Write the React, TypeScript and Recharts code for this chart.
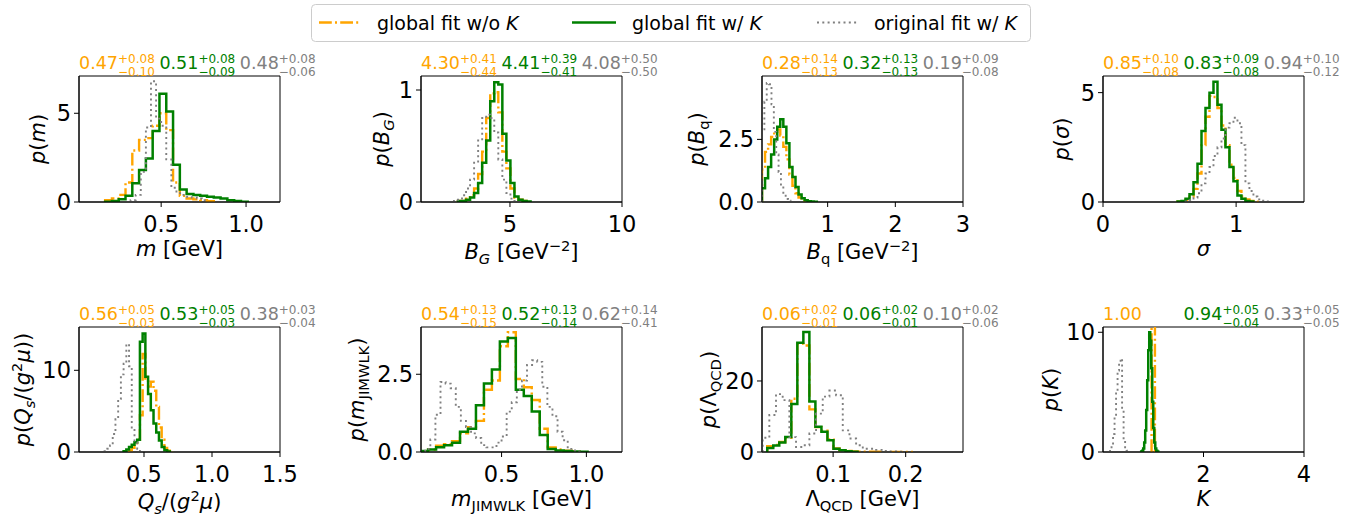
import React from "react";
import { LineChart, Line, XAxis, YAxis, ReferenceArea } from "recharts";

const ORANGE = "#ffa500";
const GREEN = "#008000";
const GRAY = "#808080";
const FONT = "'DejaVu Sans', 'Liberation Sans', sans-serif";

// every histogram: [first bin edge, bin width] + bin densities
// m
const mOrangeBins = [0.17, 0.04];
const mOrange = [0.1, 0.2, 0.4, 1.1, 2.9, 3.5, 3.6, 4.3, 5.0, 4.05, 1.1, 0.35, 0.2, 0.15, 0.1, 0.05];
const mGreenBins = [0.17, 0.04];
const mGreen = [0.02, 0.05, 0.15, 0.35, 1.05, 1.8, 2.45, 4.0, 6.1, 5.1, 2.1, 0.7, 0.45, 0.4, 0.35, 0.3, 0.25, 0.2, 0.1, 0.05, 0.02];
const mGrayBins = [0.32, 0.03];
const mGray = [0.1, 0.4, 1.7, 4.2, 6.8, 4.7, 4.3, 2.4, 0.8, 0.5, 0.4, 0.3, 0.25, 0.2, 0.1];

// B_G
const bgOrangeBins = [2.68, 0.18];
const bgOrange = [0.01, 0.01, 0.03, 0.06, 0.12, 0.25, 0.45, 0.75, 0.97, 0.98, 0.8, 0.45, 0.3, 0.12, 0.04, 0.02, 0.01];
const bgGreenBins = [2.68, 0.18];
const bgGreen = [0.01, 0.01, 0.02, 0.04, 0.08, 0.17, 0.35, 0.55, 0.9, 1.07, 1.05, 0.61, 0.37, 0.17, 0.05, 0.02, 0.01, 0.005];
const bgGrayBins = [2.5, 0.18];
const bgGray = [0.02, 0.02, 0.06, 0.12, 0.2, 0.35, 0.55, 0.75, 0.78, 0.75, 0.62, 0.38, 0.2, 0.08, 0.03, 0.01];

// B_q
const bqOrangeBins = [0.03, 0.045];
const bqOrange = [1.3, 2.0, 2.3, 2.6, 2.8, 2.9, 2.65, 2.2, 1.7, 1.1, 0.65, 0.35, 0.18, 0.08, 0.03, 0.01];
const bqGreenBins = [0.03, 0.045];
const bqGreen = [0.55, 0.95, 1.4, 1.9, 2.5, 3.0, 3.3, 3.0, 2.35, 1.4, 1.0, 0.6, 0.3, 0.15, 0.07, 0.03, 0.02, 0.01];
const bqGrayBins = [0.03, 0.035];
const bqGray = [2.9, 4.0, 4.75, 4.7, 3.9, 2.8, 1.9, 1.2, 0.65, 0.3, 0.12, 0.05, 0.02];

// sigma
const sgOrangeBins = [0.56, 0.03];
const sgOrange = [0.01, 0.03, 0.1, 0.25, 0.6, 1.3, 2.6, 3.9, 4.85, 4.8, 4.3, 3.5, 2.6, 1.7, 1.1, 0.5, 0.25, 0.12, 0.05, 0.02];
const sgGreenBins = [0.56, 0.03];
const sgGreen = [0.02, 0.05, 0.15, 0.35, 0.9, 1.75, 3.25, 4.3, 5.0, 5.5, 4.45, 3.3, 2.5, 1.6, 0.95, 0.3, 0.15, 0.05, 0.02];
const sgGrayBins = [0.62, 0.03];
const sgGray = [0.03, 0.08, 0.2, 0.4, 0.85, 1.3, 1.6, 2.1, 2.5, 2.9, 3.4, 3.6, 3.85, 3.6, 2.6, 0.85, 0.5, 0.25, 0.12, 0.06, 0.03];

// Q_s/(g^2 mu)
const qsOrangeBins = [0.39, 0.02];
const qsOrange = [0.2, 0.5, 0.8, 1.5, 4.5, 12.0, 9.0, 8.0, 8.6, 7.5, 5.5, 3.0, 1.5, 0.5, 0.15, 0.05];
const qsGreenBins = [0.35, 0.02];
const qsGreen = [0.1, 0.3, 0.6, 0.9, 1.2, 1.5, 13.5, 14.5, 9.2, 7.1, 5.1, 3.5, 2.4, 1.4, 0.6, 0.2, 0.05];
const qsGrayBins = [0.21, 0.02];
const qsGray = [0.1, 0.4, 0.8, 2.2, 4.0, 6.5, 9.5, 10.8, 13.2, 10.5, 3.0, 1.2, 0.4, 0.1];

// m_JIMWLK
const mjOrangeBins = [0.02, 0.047];
const mjOrange = [0.02, 0.08, 0.2, 0.25, 0.35, 0.6, 0.8, 1.0, 2.0, 2.3, 3.4, 3.85, 2.35, 2.08, 1.67, 0.75, 0.15, 0.08, 0.04, 0.02];
const mjGreenBins = [0.02, 0.047];
const mjGreen = [0.03, 0.08, 0.15, 0.22, 0.3, 0.65, 0.75, 1.5, 2.2, 2.65, 3.55, 3.67, 2.0, 1.8, 1.3, 0.55, 0.1, 0.05, 0.03, 0.02, 0.01];
const mjGrayBins = [0.02, 0.03];
const mjGray = [0.03, 0.1, 0.4, 1.2, 2.25, 2.2, 2.05, 1.45, 1.0, 0.8, 0.6, 0.45, 0.22, 0.15, 0.15, 0.3, 0.5, 1.3, 1.6, 2.0, 2.3, 2.8, 2.95, 2.9, 2.1, 1.45, 1.15, 0.65, 0.38, 0.1, 0.05, 0.02];

// Lambda_QCD
const lqOrangeBins = [0.0092, 0.0083];
const lqOrange = [1.6, 2.0, 2.8, 4.0, 15.0, 30.5, 30.0, 12.0, 7.0, 6.0, 3.5, 1.0, 0.5, 0.3, 0.15, 0.1, 0.08, 0.05, 0.05, 0.04, 0.03, 0.02, 0.02, 0.01];
const lqGreenBins = [0.0092, 0.0083];
const lqGreen = [1.1, 1.8, 2.7, 4.2, 13.5, 30.8, 33.8, 14.2, 7.1, 5.7, 3.3, 0.9, 0.5, 0.2, 0.1];
const lqGrayBins = [0.0029, 0.0092];
const lqGray = [4.0, 10.4, 16.3, 14.6, 4.2, 1.4, 1.9, 5.2, 10.8, 15.6, 17.3, 16.0, 6.1, 3.8, 1.9, 0.9, 0.9, 0.6, 0.3, 0.15, 0.1];

// K (orange is fixed at K = 1)
const kOrangeBins = [0.9667, 0.0667];
const kOrange = [15];
const kGreenBins = [0.76, 0.02];
const kGreen = [0.05, 0.1, 0.3, 0.8, 1.8, 3.5, 6.0, 8.5, 10.0, 9.3, 7.0, 4.2, 2.0, 0.8, 0.3, 0.1, 0.05];
const kGrayBins = [0.14, 0.03];
const kGray = [0.2, 0.6, 1.5, 3.0, 4.9, 6.8, 7.4, 7.8, 3.5, 1.0, 0.3, 0.1];

// median with +/- errors written above each panel (orange, green, gray)
const mNotes = [["0.47", "+0.08", "−0.10"], ["0.51", "+0.08", "−0.09"], ["0.48", "+0.08", "−0.06"]];
const bgNotes = [["4.30", "+0.41", "−0.44"], ["4.41", "+0.39", "−0.41"], ["4.08", "+0.50", "−0.50"]];
const bqNotes = [["0.28", "+0.14", "−0.13"], ["0.32", "+0.13", "−0.13"], ["0.19", "+0.09", "−0.08"]];
const sgNotes = [["0.85", "+0.10", "−0.08"], ["0.83", "+0.09", "−0.08"], ["0.94", "+0.10", "−0.12"]];
const qsNotes = [["0.56", "+0.05", "−0.03"], ["0.53", "+0.05", "−0.03"], ["0.38", "+0.03", "−0.04"]];
const mjNotes = [["0.54", "+0.13", "−0.15"], ["0.52", "+0.13", "−0.14"], ["0.62", "+0.14", "−0.41"]];
const lqNotes = [["0.06", "+0.02", "−0.01"], ["0.06", "+0.02", "−0.01"], ["0.10", "+0.02", "−0.06"]];
const kNotes = [["1.00"], ["0.94", "+0.05", "−0.04"], ["0.33", "+0.05", "−0.05"]];

type Part = { t: string; it?: boolean; sub?: boolean; sup?: boolean };

function toSteps(bins: number[], vals: number[]) {
  const [lo, w] = bins;
  const pts = [{ x: lo, y: 0 }];
  vals.forEach((v, i) => pts.push({ x: lo + i * w, y: v }));
  pts.push({ x: lo + vals.length * w, y: 0 });
  return pts;
}

const p = (inner: Part[]): Part[] => [{ t: "p", it: true }, { t: "(" }, ...inner, { t: ")" }];

const PANELS = [
  {
    left: 79, top: 76, h: 126, xDomain: [0.016, 1.2], yMax: 7.1, xTicks: [0.5, 1.0], yTicks: [0, 5], xDec: 1, yDec: 0,
    xLabel: [{ t: "m", it: true }, { t: " [GeV]" }], xDy: 0, yLabel: p([{ t: "m", it: true }]), yGap: 34, notes: mNotes,
    series: [[mOrangeBins, mOrange], [mGreenBins, mGreen], [mGrayBins, mGray]],
  },
  {
    left: 421, top: 76, h: 126, xDomain: [1.03, 10], yMax: 1.125, xTicks: [5, 10], yTicks: [0, 1], xDec: 0, yDec: 0,
    xLabel: [{ t: "B", it: true }, { t: "G", it: true, sub: true }, { t: " [GeV" }, { t: "−2", sup: true }, { t: "]" }], xDy: 3,
    yLabel: p([{ t: "B", it: true }, { t: "G", it: true, sub: true }]), yGap: 32, notes: bgNotes,
    series: [[bgOrangeBins, bgOrange], [bgGreenBins, bgGreen], [bgGrayBins, bgGray]],
  },
  {
    left: 762, top: 76, h: 126, xDomain: [0.03, 3], yMax: 5.03, xTicks: [1, 2, 3], yTicks: [0, 2.5], xDec: 0, yDec: 1,
    xLabel: [{ t: "B", it: true }, { t: "q", sub: true }, { t: " [GeV" }, { t: "−2", sup: true }, { t: "]" }], xDy: 3,
    yLabel: p([{ t: "B", it: true }, { t: "q", sub: true }]), yGap: 58, notes: bqNotes,
    series: [[bqOrangeBins, bqOrange], [bqGreenBins, bqGreen], [bqGrayBins, bqGray]],
  },
  {
    left: 1103, top: 76, h: 126, xDomain: [0, 1.51], yMax: 5.76, xTicks: [0, 1], yTicks: [0, 5], xDec: 0, yDec: 0,
    xLabel: [{ t: "σ", it: true }], xDy: 0, yLabel: p([{ t: "σ", it: true }]), yGap: 34, notes: sgNotes,
    series: [[sgOrangeBins, sgOrange], [sgGreenBins, sgGreen], [sgGrayBins, sgGray]],
  },
  {
    left: 79, top: 327, h: 125, xDomain: [0.022, 1.5], yMax: 15.3, xTicks: [0.5, 1.0, 1.5], yTicks: [0, 10], xDec: 1, yDec: 0,
    xLabel: [{ t: "Q", it: true }, { t: "s", it: true, sub: true }, { t: "/(" }, { t: "g", it: true }, { t: "2", sup: true }, { t: "μ", it: true }, { t: ")" }], xDy: 3,
    yLabel: p([{ t: "Q", it: true }, { t: "s", it: true, sub: true }, { t: "/(" }, { t: "g", it: true }, { t: "2", sup: true }, { t: "μ", it: true }, { t: ")" }]),
    yGap: 49, notes: qsNotes,
    series: [[qsOrangeBins, qsOrange], [qsGreenBins, qsGreen], [qsGrayBins, qsGray]],
  },
  {
    left: 421, top: 327, h: 125, xDomain: [0.025, 1.21], yMax: 4.02, xTicks: [0.5, 1.0], yTicks: [0, 2.5], xDec: 1, yDec: 1,
    xLabel: [{ t: "m", it: true }, { t: "JIMWLK", sub: true }, { t: " [GeV]" }], xDy: 0,
    yLabel: p([{ t: "m", it: true }, { t: "JIMWLK", sub: true }]), yGap: 57, notes: mjNotes,
    series: [[mjOrangeBins, mjOrange], [mjGreenBins, mjGreen], [mjGrayBins, mjGray]],
  },
  {
    left: 762, top: 327, h: 125, xDomain: [0.002, 0.279], yMax: 35.2, xTicks: [0.1, 0.2], yTicks: [0, 20], xDec: 1, yDec: 0,
    xLabel: [{ t: "Λ" }, { t: "QCD", sub: true }, { t: " [GeV]" }], xDy: 0,
    yLabel: p([{ t: "Λ" }, { t: "QCD", sub: true }]), yGap: 46, notes: lqNotes,
    series: [[lqOrangeBins, lqOrange], [lqGreenBins, lqGreen], [lqGrayBins, lqGray]],
  },
  {
    left: 1103, top: 327, h: 125, xDomain: [0, 4], yMax: 10.44, xTicks: [2, 4], yTicks: [0, 10], xDec: 0, yDec: 0,
    xLabel: [{ t: "K", it: true }], xDy: 0, yLabel: p([{ t: "K", it: true }]), yGap: 45, notes: kNotes,
    series: [[kOrangeBins, kOrange], [kGreenBins, kGreen], [kGrayBins, kGray]],
  },
];

const PLOT_W = 201;
const YAXIS_W = 72;
const TOP_PAD = 10;
const XAXIS_H = 45;
const RIGHT_PAD = 24;

const STYLES = [
  { stroke: ORANGE, dash: "12.8 3.2 2 3.2", width: 2.4 },
  { stroke: GREEN, dash: undefined, width: 2.5 },
  { stroke: GRAY, dash: "2 3.3", width: 1.9 },
];

function MathText({ parts, x, y, fs, rotate = false, fill = "#000" }: { parts: Part[]; x: number; y: number; fs: number; rotate?: boolean; fill?: string }) {
  let shift = 0;
  const spans = parts.map((pt, i) => {
    const target = pt.sub ? fs * 0.24 : pt.sup ? -fs * 0.4 : 0;
    const dy = target - shift;
    shift = target;
    return (
      <tspan key={i} dy={dy} fontSize={pt.sub || pt.sup ? fs * 0.7 : fs} fontStyle={pt.it ? "italic" : "normal"}>
        {pt.t}
      </tspan>
    );
  });
  return (
    <text x={x} y={y} textAnchor="middle" fill={fill} fontFamily={FONT} transform={rotate ? `rotate(-90 ${x} ${y})` : undefined}>
      {spans}
    </text>
  );
}

function Panel({ cfg }: { cfg: (typeof PANELS)[number] }) {
  const tickStyle = { fontSize: 22.5, fill: "#000", fontFamily: FONT };
  return (
    <div style={{ position: "absolute", left: cfg.left - YAXIS_W, top: cfg.top - TOP_PAD }}>
      <LineChart
        width={YAXIS_W + PLOT_W + RIGHT_PAD}
        height={TOP_PAD + cfg.h + XAXIS_H}
        margin={{ top: TOP_PAD, right: RIGHT_PAD, bottom: 0, left: 0 }}
      >
        <XAxis
          dataKey="x"
          type="number"
          domain={cfg.xDomain}
          allowDataOverflow
          ticks={cfg.xTicks}
          interval={0}
          tickFormatter={(v: number) => v.toFixed(cfg.xDec)}
          tick={tickStyle}
          tickSize={5}
          tickMargin={9}
          height={XAXIS_H}
          axisLine={{ stroke: "#000" }}
          tickLine={{ stroke: "#000" }}
        />
        <YAxis
          type="number"
          domain={[0, cfg.yMax]}
          allowDataOverflow
          ticks={cfg.yTicks}
          interval={0}
          tickFormatter={(v: number) => v.toFixed(cfg.yDec)}
          tick={tickStyle}
          tickSize={5}
          tickMargin={3}
          width={YAXIS_W}
          axisLine={{ stroke: "#000" }}
          tickLine={{ stroke: "#000" }}
        />
        <ReferenceArea
          x1={cfg.xDomain[0]}
          x2={cfg.xDomain[1]}
          y1={0}
          y2={cfg.yMax}
          fill="none"
          stroke="#000"
          strokeWidth={1}
          ifOverflow="visible"
        />
        {cfg.series.map(([bins, vals], i) => (
          <Line
            key={i}
            data={toSteps(bins, vals)}
            dataKey="y"
            type="stepAfter"
            stroke={STYLES[i].stroke}
            strokeWidth={STYLES[i].width}
            strokeDasharray={STYLES[i].dash}
            dot={false}
            activeDot={false}
            isAnimationActive={false}
          />
        ))}
      </LineChart>
    </div>
  );
}

const NOTE_COLORS = [ORANGE, GREEN, GRAY];

function Overlay() {
  return (
    <svg width={1372} height={519} style={{ position: "absolute", left: 0, top: 0, pointerEvents: "none" }}>
      {/* legend */}
      <rect x={311.5} y={4.5} width={719} height={37} rx={4} fill="#fff" stroke="#cccccc" strokeWidth={1} />
      <line x1={319} x2={360} y1={22.5} y2={22.5} stroke={ORANGE} strokeWidth={2.4} strokeDasharray="12.8 3.2 2 3.2" />
      <text x={377} y={29.5} fontSize={19} fontFamily={FONT}>global fit w/o <tspan fontStyle="italic">K</tspan></text>
      <line x1={572} x2={616} y1={22.5} y2={22.5} stroke={GREEN} strokeWidth={2.5} />
      <text x={632} y={29.5} fontSize={19} fontFamily={FONT}>global fit w/ <tspan fontStyle="italic">K</tspan></text>
      <line x1={817} x2={858} y1={22.5} y2={22.5} stroke={GRAY} strokeWidth={1.9} strokeDasharray="2 3.3" />
      <text x={874} y={29.5} fontSize={19} fontFamily={FONT}>original fit w/ <tspan fontStyle="italic">K</tspan></text>

      {PANELS.map((cfg, pi) => (
        <g key={pi}>
          <MathText parts={cfg.xLabel} x={cfg.left + PLOT_W / 2} y={cfg.top + cfg.h + 54 + cfg.xDy} fs={21} />
          <MathText parts={cfg.yLabel} x={cfg.left - cfg.yGap} y={cfg.top + cfg.h / 2} fs={21} rotate />
          {cfg.notes.map((n, k) => {
            const x = cfg.left + k * 80.4;
            return (
              <g key={k} fill={NOTE_COLORS[k]} fontFamily={FONT}>
                <text x={x} y={cfg.top - 7} fontSize={17.5}>{n[0]}</text>
                {n[1] && <text x={x + 39} y={cfg.top - 13} fontSize={12}>{n[1]}</text>}
                {n[2] && <text x={x + 39} y={cfg.top} fontSize={12}>{n[2]}</text>}
              </g>
            );
          })}
        </g>
      ))}
    </svg>
  );
}

export default function App() {
  return (
    <div style={{ position: "absolute", left: 0, top: 0, width: 1372, height: 519, background: "#fff", fontFamily: FONT }}>
      {PANELS.map((cfg, i) => (
        <Panel key={i} cfg={cfg} />
      ))}
      <Overlay />
    </div>
  );
}
